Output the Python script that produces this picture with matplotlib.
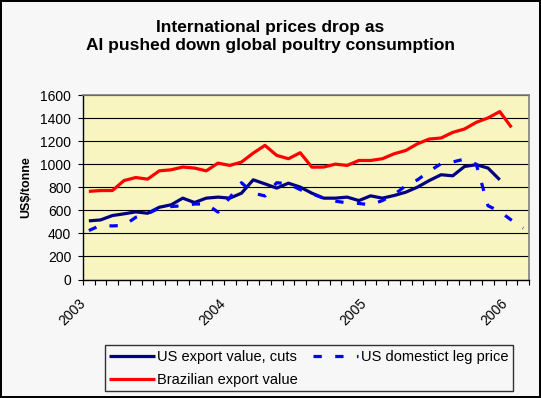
import numpy as np
import matplotlib.pyplot as plt
import matplotlib

matplotlib.rcParams['font.family'] = ['Liberation Sans', 'DejaVu Sans']

# monthly values, Jan 2003 onwards (US$/tonne)
us_export = [509, 517, 555, 570, 587, 575, 627, 648, 706, 668, 706, 715,
             706, 749, 865, 830, 793, 836, 802, 749, 706, 706, 715, 685,
             726, 706, 729, 758, 802, 859, 909, 900, 981, 996, 967, 865]
us_leg = [425, 470, 465, 470, 540, 570, 620, 633, 640, 655, 656, 585,
          710, 840, 750, 725, 840, 830, 780, 745, 705, 680, 665, 660,
          648, 685, 735, 815, 865, 940, 1005, 1020, 1045, 1000, 640, 590,
          515, 445]
brazil = [765, 772, 772, 859, 885, 871, 943, 952, 976, 967, 943, 1010,
          990, 1019, 1097, 1164, 1077, 1048, 1100, 975, 976, 1001, 990, 1033,
          1033, 1048, 1091, 1120, 1178, 1219, 1228, 1277, 1306, 1364, 1402, 1457,
          1320]
years = ['2003', '2004', '2005', '2006']

n_cat = 38

fig = plt.figure(figsize=(5.41, 3.98), dpi=100, facecolor='#F7F7F7',
                 edgecolor='black', linewidth=1.5)
ax = fig.add_axes([0.1534, 0.2977, 0.8246, 0.4633])
ax.set_facecolor('#F8F5C0')

ax.plot(np.arange(len(us_export)) + 0.5, us_export, color='#000080',
        linewidth=2.3, label='US export value, cuts', solid_capstyle='butt')
ax.plot(np.arange(len(brazil)) + 0.5, brazil, color='#FF0000',
        linewidth=2.3, label='Brazilian export value', solid_capstyle='butt')
ax.plot(np.arange(len(us_leg)) + 0.5, us_leg, color='#0000FF',
        linewidth=2.3, dashes=(2.6, 4.2), label='US domestict leg price')

ax.set_xlim(0, n_cat)
ax.set_ylim(0, 1600)
ax.set_yticks(range(0, 1601, 200))
ax.yaxis.grid(True, color='black', linewidth=0.8)
ax.set_axisbelow(True)

ax.set_xticks(range(0, n_cat + 1))
labels = [''] * (n_cat + 1)
for i, y in enumerate(years):
    labels[12 * i] = y
ax.set_xticklabels(labels, rotation=45, ha='right', va='center',
                   rotation_mode='anchor', fontsize=10)
ax.tick_params(axis='x', length=3.5, width=0.8, pad=12)
ax.tick_params(axis='y', length=3.5, width=0.8, labelsize=10, pad=5)

for s in ['top', 'right']:
    ax.spines[s].set_color('#808080')
    ax.spines[s].set_linewidth(1.2)
for s in ['left', 'bottom']:
    ax.spines[s].set_color('black')
    ax.spines[s].set_linewidth(1)

ax.set_ylabel('US$/tonne', fontsize=9, fontweight='bold', labelpad=6)

fig.text(0.5, 0.908, 'International prices drop as\nAI pushed down global poultry consumption',
         ha='center', va='center', fontsize=12.5, fontweight='bold',
         linespacing=1.3)

h, l = ax.get_legend_handles_labels()
leg = fig.legend(h, l, loc='lower left', ncol=2,
                 bbox_to_anchor=(0.194, 0.0176),
                 fontsize=10.5, handlelength=3.1, handletextpad=0.2,
                 fancybox=False, frameon=True, borderaxespad=0,
                 labelspacing=0.6, borderpad=0.3, columnspacing=1.0)
leg.get_frame().set_edgecolor('black')
leg.get_frame().set_linewidth(1)
leg.get_frame().set_facecolor('#F7F7F7')

fig.savefig('out.png', dpi=100, facecolor=fig.get_facecolor(),
            edgecolor=fig.get_edgecolor())
